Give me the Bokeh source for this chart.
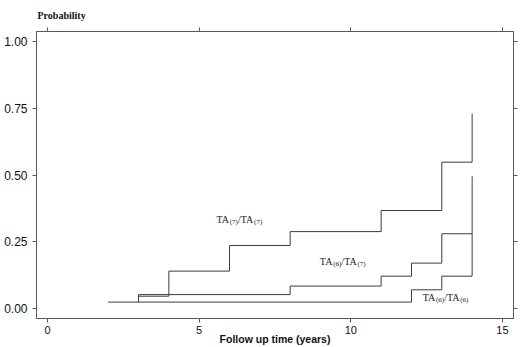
from bokeh.plotting import figure
from bokeh.models import LinearAxis, FixedTicker, Range1d, ColumnDataSource, NumeralTickFormatter, CustomJSTickFormatter
from bokeh.core.properties import value
from bokeh.embed import file_html
from bokeh.resources import INLINE

# ---- data ----
tt77_times = [3, 4, 6, 8, 11, 13, 14]
tt77_prob = [0.046, 0.140, 0.236, 0.288, 0.367, 0.548, 0.730]
tt67_times = [3, 3, 8, 11, 12, 13, 14]
tt67_prob = [0.024, 0.052, 0.084, 0.121, 0.170, 0.280, 0.495]
tt66_times = [2, 12, 13, 14]
tt66_prob = [0.024, 0.070, 0.121, 0.280]

x_ticks = [0, 5, 10, 15]
y_ticks = [0, 0.25, 0.5, 0.75, 1.0]
x_title = "Follow up time (years)"
y_title = "Probability"

# curve labels: pieces (normal + subscript) and anchor in data coords
label_parts = [["TA", "(7)", "/", "TA", "(7)"],
               ["TA", "(6)", "/", "TA", "(7)"],
               ["TA", "(6)", "/", "TA", "(6)"]]
label_x = [5.57, 8.98, 12.37]
label_y = [0.335, 0.176, 0.042]

LINE = "#3c3c3c"
FRAME = "#5a5a5a"

p = figure(width=520, height=347, output_backend="svg", toolbar_location=None,
           x_range=Range1d(-0.363, 15.364), y_range=Range1d(-0.0375, 1.0375),
           x_axis_location=None, y_axis_location=None,
           min_border_left=36, min_border_right=7, min_border_top=31, min_border_bottom=29)
p.grid.visible = False
p.outline_line_color = FRAME
p.outline_line_width = 1
p.background_fill_color = "white"
p.border_fill_color = "white"

p.title.text = y_title
p.title.text_font = "Liberation Serif"
p.title.text_font_style = "bold"
p.title.text_font_size = "10px"
p.title.text_color = "#111111"
p.title.align = "left"
p.title.offset = 1
p.title.standoff = 14

blank = CustomJSTickFormatter(code="return ''")

def style_axis(ax, ticks, labels=True, size="11px", standoff=1):
    ax.ticker = FixedTicker(ticks=ticks)
    ax.minor_tick_line_color = None
    ax.major_tick_in = 0
    ax.major_tick_out = 4
    ax.major_tick_line_color = FRAME
    ax.axis_line_color = FRAME
    ax.major_label_text_font = "Liberation Sans"
    ax.major_label_text_font_size = size
    ax.major_label_text_color = "#111111"
    ax.major_label_standoff = standoff if labels else 0
    if not labels:
        ax.formatter = blank

left = LinearAxis()
style_axis(left, y_ticks, size="12px", standoff=5)
left.formatter = NumeralTickFormatter(format="0.00")
p.add_layout(left, "left")

right = LinearAxis()
style_axis(right, y_ticks, labels=False, size="1px")
p.add_layout(right, "right")

bottom = LinearAxis(axis_label=x_title)
style_axis(bottom, x_ticks, size="11px", standoff=3)
bottom.axis_label_text_font = "Liberation Sans"
bottom.axis_label_text_font_style = "bold"
bottom.axis_label_text_font_size = "10.5px"
bottom.axis_label_standoff = -4
bottom.axis_label_text_color = "#111111"
p.add_layout(bottom, "below")

top = LinearAxis()
style_axis(top, x_ticks, labels=False, size="1px")
p.add_layout(top, "above")

for t, pr in [(tt77_times, tt77_prob), (tt67_times, tt67_prob), (tt66_times, tt66_prob)]:
    p.step(t, pr, mode="after", line_color=LINE, line_width=1)

# curve labels built from pieces (normal + subscript)
main_w = {"TA": 13.33, "/": 2.78}
sub_w = 8.16
xs, ys, txt, dx, dy, fs = [], [], [], [], [], []
for parts, lx, ly in zip(label_parts, label_x, label_y):
    off = 0.0
    for part in parts:
        is_sub = part.startswith("(")
        xs.append(lx); ys.append(ly); txt.append(part)
        dx.append(off); dy.append(2.5 if is_sub else 0.0)
        fs.append("7px" if is_sub else "10px")
        off += sub_w if is_sub else main_w[part]
src = ColumnDataSource(dict(x=xs, y=ys, text=txt, dx=dx, dy=dy, fs=fs))
p.text(x="x", y="y", text="text", x_offset="dx", y_offset="dy", text_font_size="fs",
       text_font=value("Liberation Serif"), text_color="#222222",
       text_align="left", text_baseline="alphabetic", source=src)

open("out.html", "w").write(file_html(p, INLINE))
